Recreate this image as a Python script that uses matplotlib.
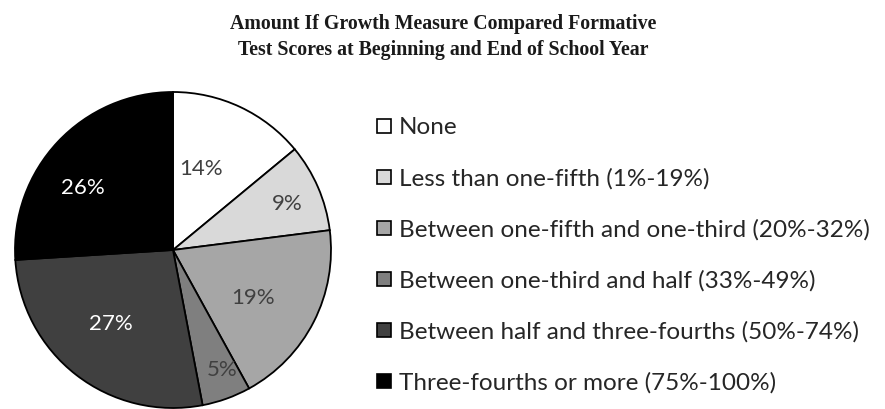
import matplotlib
matplotlib.use("Agg")
import matplotlib.pyplot as plt
import numpy as np
from matplotlib.lines import Line2D

categories = [
    "None",
    "Less than one-fifth (1%-19%)",
    "Between one-fifth and one-third (20%-32%)",
    "Between one-third and half (33%-49%)",
    "Between half and three-fourths (50%-74%)",
    "Three-fourths or more (75%-100%)",
]
values = [14, 9, 19, 5, 27, 26]
colors = ["#ffffff", "#d9d9d9", "#a6a6a6", "#7f7f7f", "#404040", "#000000"]
label_colors = ["#404040", "#404040", "#404040", "#404040", "#ffffff", "#ffffff"]
# label placement style (radial fraction, angular offset in degrees)
label_r = [0.54, 0.78, 0.59, 0.82, 0.61, 0.69]
label_dang = [5.9, -1.4, -4.0, 2.4, -2.2, 8.6]

title = "Amount If Growth Measure Compared Formative\nTest Scores at Beginning and End of School Year"

W, H = 885, 409
fig = plt.figure(figsize=(W / 100, H / 100), dpi=100)

cx, cy, R = 173, 250, 158
ax = fig.add_axes([(cx - R) / W, (H - cy - R) / H, 2 * R / W, 2 * R / H])
wedges, _ = ax.pie(values, colors=colors, startangle=90, counterclock=False,
                   wedgeprops=dict(edgecolor="black", linewidth=1.3))
ax.set_xlim(-1, 1)
ax.set_ylim(-1, 1)
ax.set_aspect("equal")
ax.axis("off")

for w, v, r, da, c in zip(wedges, values, label_r, label_dang, label_colors):
    mid = np.deg2rad((w.theta1 + w.theta2) / 2 + da)
    ax.text(r * np.cos(mid), r * np.sin(mid), f"{v}%", ha="center", va="center",
            fontsize=16, color=c, family="Lato")

fig.text(443 / W, 1 - 37 / H, title, ha="center", va="center",
         fontsize=14.3, fontweight="bold", family="Liberation Serif",
         linespacing=1.45, color="#1a1a1a")

handles = [Line2D([], [], marker="s", linestyle="none", markersize=10.5,
                  markerfacecolor=c, markeredgecolor="black", markeredgewidth=1.2)
           for c in colors]
leg = fig.legend(handles, categories, loc="upper left",
                 bbox_to_anchor=(372 / W, 1 - 117 / H), frameon=False,
                 prop=dict(family="Lato", size=17.5), labelspacing=1.22,
                 handletextpad=0.12, handlelength=1.0, borderpad=0, borderaxespad=0)
for t in leg.get_texts():
    t.set_color("#262626")

fig.savefig("out.png", dpi=100)
